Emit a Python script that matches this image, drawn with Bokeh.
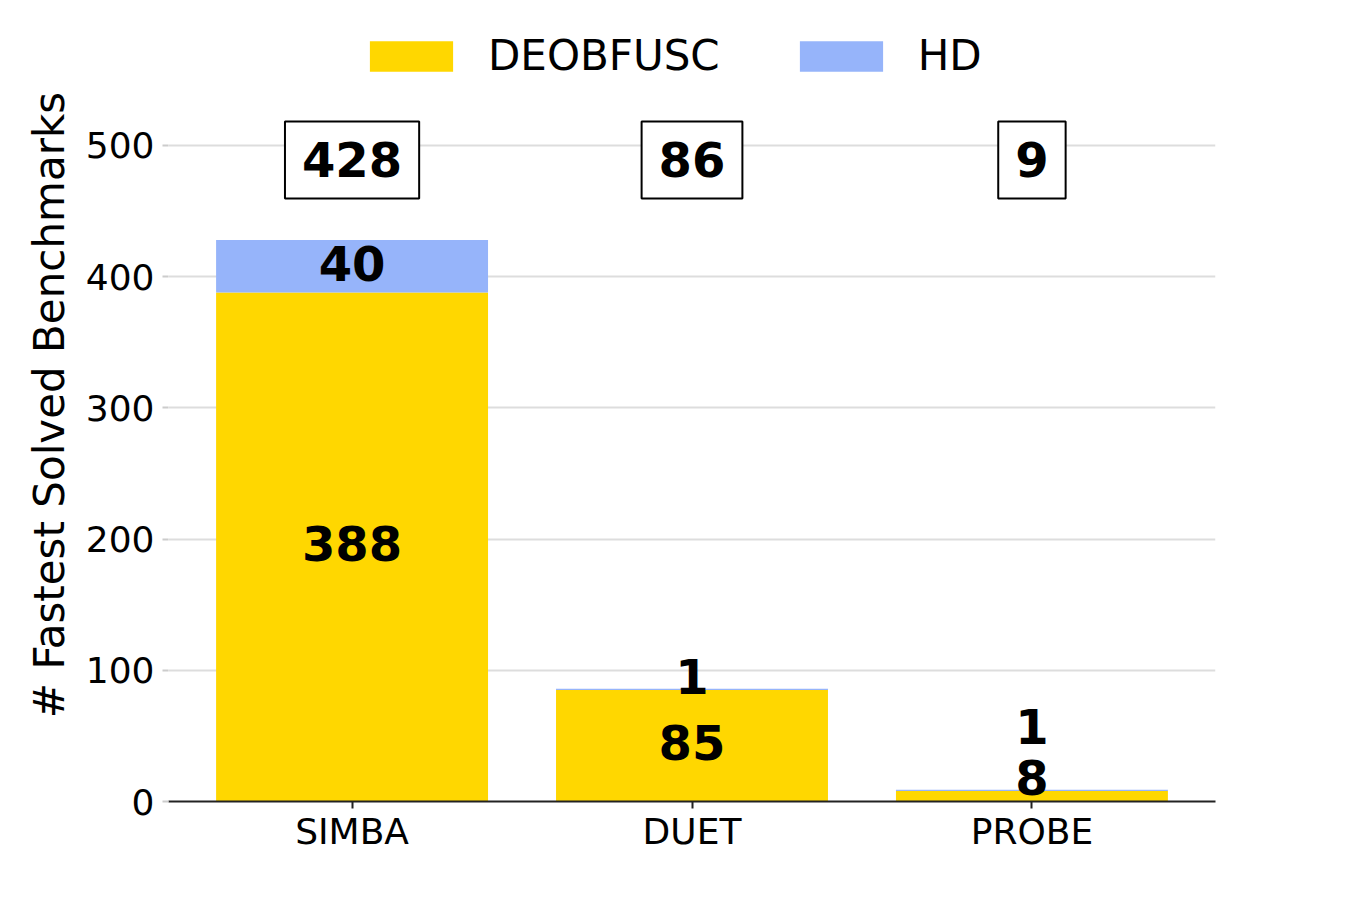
from bokeh.plotting import figure
from bokeh.models import (ColumnDataSource, Legend, LegendItem, FixedTicker,
                          Range1d)
from bokeh.core.properties import value
from bokeh.embed import file_html
from bokeh.resources import INLINE

tools = ["SIMBA", "DUET", "PROBE"]
deobfusc = [388, 85, 8]
hd = [40, 1, 1]
y_ticks = [0, 100, 200, 300, 400, 500]

YELLOW = "#FFD700"
BLUE = "#96B4FA"
FONT = "DejaVu Sans"

# label nudges in screen pixels (styling only)
deob_nudge = [-3, -3, -19]
hd_nudge = [-3, -13, -64]

xs = list(range(len(tools)))
totals = [a + b for a, b in zip(deobfusc, hd)]

p = figure(width=1334, height=884,
           min_border_left=168, min_border_right=119,
           min_border_top=8, min_border_bottom=83,
           x_range=Range1d(-0.54, 2.54), y_range=Range1d(0, 604.4),
           output_backend="svg", toolbar_location=None)
p.outline_line_color = None
p.background_fill_color = "white"
p.border_fill_color = "white"

src = ColumnDataSource(dict(x=xs, DEOBFUSC=deobfusc, HD=hd))
rs = p.vbar_stack(["DEOBFUSC", "HD"], x="x", width=0.8, source=src,
                  color=[YELLOW, BLUE], line_color=None)

# segment labels
lab = ColumnDataSource(dict(
    x=xs + xs,
    y=[d / 2 for d in deobfusc] + [d + h / 2 for d, h in zip(deobfusc, hd)],
    t=[str(v) for v in deobfusc] + [str(v) for v in hd],
    off=deob_nudge + hd_nudge,
))
p.text(x="x", y="y", text="t", y_offset="off", source=lab,
       text_font=value(FONT), text_font_style="bold",
       text_font_size="48px", text_align="center",
       text_baseline="middle", text_color="black")

# totals in boxes
tot = ColumnDataSource(dict(x=xs, y=[489] * len(xs),
                            t=[str(v) for v in totals]))
p.text(x="x", y="y", text="t", source=tot,
       text_font=value(FONT), text_font_style="bold",
       text_font_size="48px", text_align="center",
       text_baseline="middle", text_color="black",
       border_line_color="black", border_line_width=2,
       background_fill_color="white",
       padding=dict(left=17, right=17, top=21, bottom=21))

# axes
p.xaxis.ticker = FixedTicker(ticks=xs)
p.xaxis.major_label_overrides = {i: t for i, t in enumerate(tools)}
p.xaxis.major_label_text_font = FONT
p.xaxis.major_label_text_font_size = "36px"
p.xaxis.major_label_text_color = "black"
p.xaxis.axis_line_color = "#222222"
p.xaxis.axis_line_width = 2
p.xaxis.major_tick_line_color = "#222222"
p.xaxis.major_tick_line_width = 2
p.xaxis.major_tick_out = 7
p.xaxis.major_tick_in = 0
p.xaxis.minor_tick_line_color = None
p.xaxis.major_label_standoff = 2

p.yaxis.ticker = FixedTicker(ticks=y_ticks)
p.yaxis.major_label_text_font = FONT
p.yaxis.major_label_text_font_size = "36px"
p.yaxis.major_label_text_color = "black"
p.yaxis.axis_line_color = None
p.yaxis.major_tick_line_color = "#cccccc"
p.yaxis.major_tick_line_width = 2
p.yaxis.major_tick_out = 6
p.yaxis.major_tick_in = 0
p.yaxis.minor_tick_line_color = None
p.yaxis.major_label_standoff = 8
p.yaxis.axis_label = "# Fastest Solved Benchmarks"
p.yaxis.axis_label_text_font = FONT
p.yaxis.axis_label_text_font_size = "42px"
p.yaxis.axis_label_text_font_style = "normal"
p.yaxis.axis_label_text_color = "black"
p.yaxis.axis_label_standoff = 9

p.xgrid.grid_line_color = None
p.ygrid.grid_line_color = "#dddddd"
p.ygrid.grid_line_width = 2

legend = Legend(items=[LegendItem(label="DEOBFUSC", renderers=[rs[0]]),
                       LegendItem(label="HD", renderers=[rs[1]])],
                orientation="horizontal", location=(191, 721),
                label_text_font=FONT, label_text_font_size="42px",
                label_text_color="black",
                glyph_width=104, glyph_height=38, label_standoff=25,
                spacing=69, border_line_color=None,
                background_fill_alpha=0, margin=0, padding=24)
p.add_layout(legend, "center")

open("out.html", "w").write(file_html(p, INLINE))
